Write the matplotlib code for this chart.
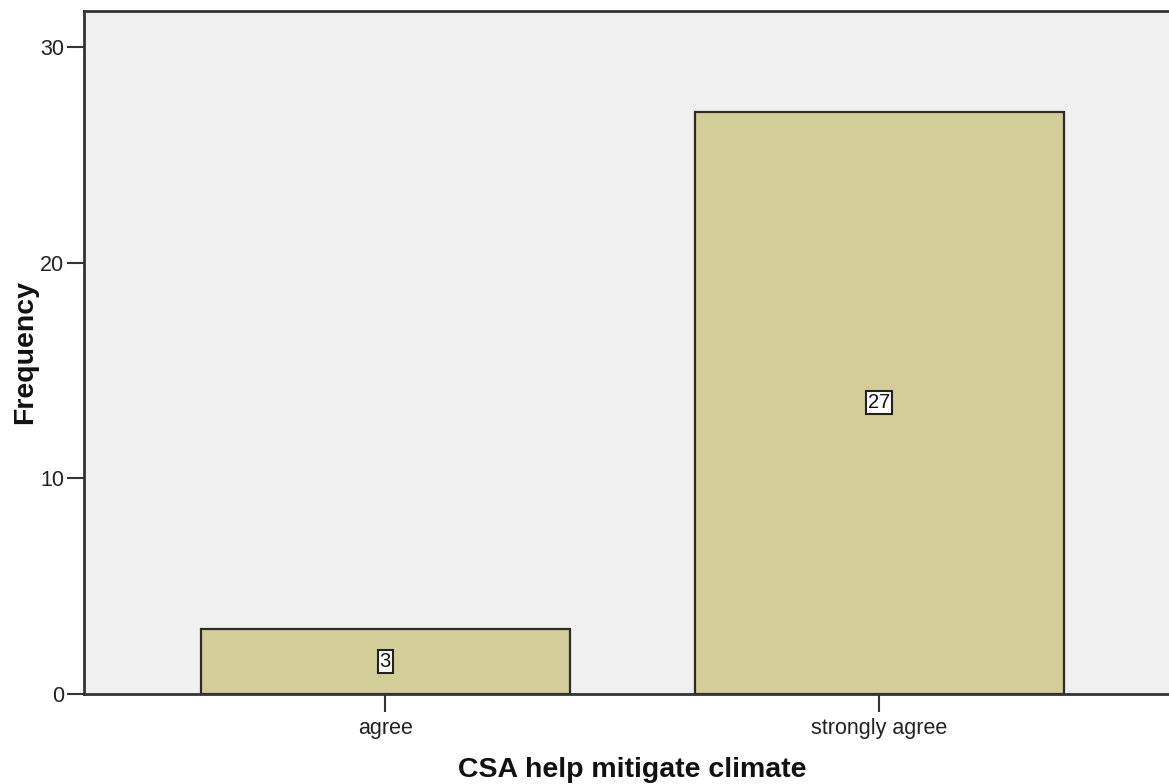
import matplotlib
matplotlib.use("Agg")
import matplotlib.pyplot as plt

categories = ["agree", "strongly agree"]
frequencies = [3, 27]
yticks = [0, 10, 20, 30]

plt.rcParams['font.family'] = ['Liberation Sans', 'DejaVu Sans']

W, H = 1169, 784
fig = plt.figure(figsize=(W / 100, H / 100), dpi=100)
left_px, right_px, top_px, bottom_px = 83.5, 1169, 11, 694
ax = fig.add_axes([left_px / W, (H - bottom_px) / H,
                   (right_px - left_px) / W, (bottom_px - top_px) / H])
ax.set_facecolor('#F0F0F0')

x = list(range(len(categories)))
bars = ax.bar(x, frequencies, width=0.747, color='#D3CE97',
              edgecolor='#2b2b2b', linewidth=1.6, zorder=2)

ax.set_xlim(-0.611, 1.587)
ax.set_ylim(0, 31.67)
ax.set_xticks(x)
ax.set_xticklabels(categories, fontsize=15.5, color='#222222')
ax.set_yticks(yticks)
ax.set_yticklabels([str(t) for t in yticks], fontsize=15.5, color='#222222')

for s in ['left', 'top', 'bottom']:
    ax.spines[s].set_color('#333333')
    ax.spines[s].set_linewidth(2)
ax.spines['right'].set_visible(False)

ax.tick_params(axis='y', direction='out', length=12, width=1.5, pad=2, colors='#333333', labelcolor='#222222')
ax.tick_params(axis='x', direction='out', length=13, width=1.5, pad=4, colors='#333333', labelcolor='#222222')

for xi, v in zip(x, frequencies):
    ax.text(xi, v / 2, str(v), ha='center', va='center', fontsize=14.5,
            color='#111111', zorder=3,
            bbox=dict(boxstyle='square,pad=0.1', facecolor='white',
                      edgecolor='#222222', linewidth=1.5))

fig.text(632 / W, 1 - 770 / H, 'CSA help mitigate climate', ha='center', va='center',
         fontsize=20.5, fontweight='bold', color='#111111')
fig.text(25 / W, 1 - 352 / H, 'Frequency', ha='center', va='center', rotation=90,
         fontsize=20.5, fontweight='bold', color='#111111')

fig.savefig('out.png', dpi=100)
